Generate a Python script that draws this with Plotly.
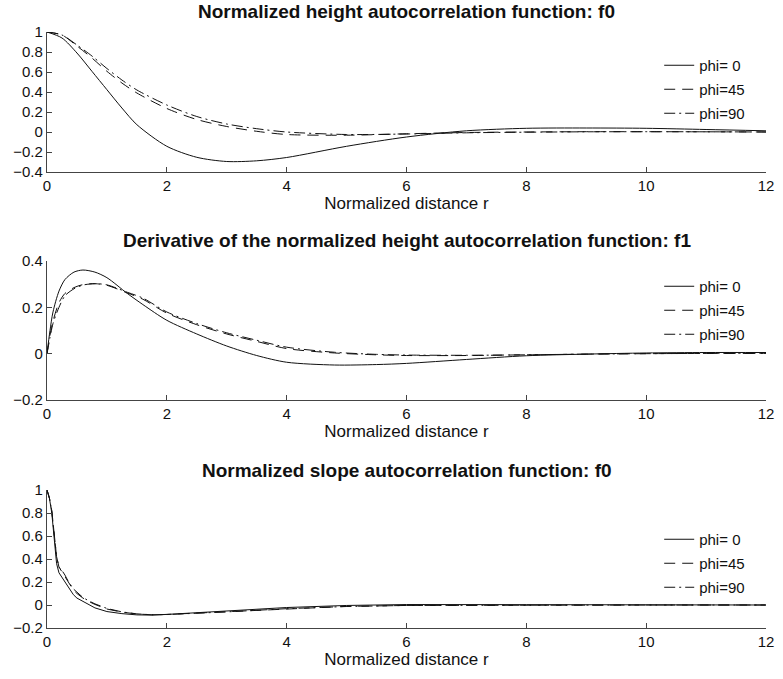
import plotly.graph_objects as go

# ---------------- data ----------------
series_names = ["phi= 0", "phi=45", "phi=90"]

# Plot 1: normalized height autocorrelation f0
r1 = [0, 0.25, 0.5, 0.75, 1, 1.25, 1.5, 2, 2.5, 3, 3.5, 4, 5, 6, 7, 8, 9, 10, 11, 12]
h0_phi0 = [1, 0.94, 0.79, 0.607, 0.423, 0.24, 0.073, -0.143, -0.253, -0.295, -0.288, -0.255,
           -0.143, -0.05, 0.012, 0.037, 0.04, 0.037, 0.025, 0.012]
h0_phi45 = [1, 0.97, 0.86, 0.74, 0.607, 0.49, 0.39, 0.235, 0.125, 0.055, 0.007, -0.025,
            -0.032, -0.018, -0.005, 0.0, 0.003, 0.003, 0.002, 0.0]
h0_phi90 = [1, 0.97, 0.87, 0.76, 0.635, 0.52, 0.42, 0.27, 0.155, 0.08, 0.033, 0.0,
            -0.025, -0.02, -0.008, -0.002, 0.002, 0.003, 0.002, 0.0]

# Plot 2: derivative of normalized height autocorrelation f1
r2 = [0, 0.05, 0.1, 0.2, 0.3, 0.45, 0.6, 0.8, 1.0, 1.34, 1.6, 2, 2.5, 3, 3.5, 4, 4.8, 5.5,
      6, 7, 8, 9, 10, 11, 12]
h1_phi0 = [0, 0.1, 0.18, 0.27, 0.32, 0.352, 0.361, 0.352, 0.328, 0.26, 0.212, 0.144, 0.085,
           0.033, -0.008, -0.037, -0.049, -0.047, -0.042, -0.025, -0.009, -0.002, 0.003, 0.005, 0.005]
h1_phi45 = [0, 0.08, 0.14, 0.22, 0.26, 0.285, 0.298, 0.302, 0.295, 0.262, 0.235, 0.175, 0.125,
            0.085, 0.053, 0.022, 0.003, -0.005, -0.008, -0.008, -0.005, -0.002, 0.0, 0.001, 0.001]
h1_phi90 = [0, 0.07, 0.13, 0.2, 0.25, 0.28, 0.296, 0.302, 0.297, 0.265, 0.24, 0.18, 0.13,
            0.09, 0.058, 0.028, 0.006, -0.003, -0.006, -0.007, -0.005, -0.002, 0.0, 0.001, 0.001]

# Plot 3: normalized slope autocorrelation f0
r3 = [0, 0.04, 0.08, 0.12, 0.16, 0.2, 0.25, 0.3, 0.35, 0.44, 0.5, 0.6, 0.7, 0.8, 1.0, 1.25,
      1.5, 1.75, 2, 2.5, 3, 4, 5, 6, 8, 10, 12]
s0_phi0 = [1, 0.93, 0.8, 0.58, 0.36, 0.28, 0.24, 0.2, 0.15, 0.09, 0.06, 0.03, 0.0, -0.025,
           -0.057, -0.075, -0.086, -0.088, -0.082, -0.068, -0.052, -0.022, -0.004, 0.004,
           0.003, 0.001, 0.0]
s0_phi45 = [1, 0.93, 0.82, 0.62, 0.42, 0.33, 0.29, 0.25, 0.2, 0.13, 0.1, 0.06, 0.03, 0.005,
            -0.035, -0.062, -0.078, -0.085, -0.082, -0.07, -0.058, -0.03, -0.012, -0.004,
            0.0, 0.0, 0.0]
s0_phi90 = [1, 0.93, 0.82, 0.62, 0.42, 0.33, 0.3, 0.26, 0.21, 0.14, 0.11, 0.065, 0.035, 0.01,
            -0.03, -0.06, -0.077, -0.085, -0.083, -0.072, -0.06, -0.032, -0.013, -0.004,
            0.0, 0.0, 0.0]

titles = ["Normalized height autocorrelation function: f0",
          "Derivative of the normalized height autocorrelation function: f1",
          "Normalized slope autocorrelation function: f0"]
xlabel = "Normalized distance r"
yranges = [[-0.4, 1], [-0.2, 0.4], [-0.2, 1]]

# ---------------- styling ----------------
FONT = "Liberation Sans, Arial, Helvetica, sans-serif"
dashes = ["solid", "11px,7px", "11px,4px,2px,4px"]
shapes = ["spline", "spline", "linear"]
W, H = 783, 679
ML, MR, MT, MB = 47, 9, 32, 51
PW, PH = W - ML - MR, H - MT - MB

def py(px):  # pixel row -> paper y
    return (H - MB - px) / PH

def pxx(px):
    return (px - ML) / PW

domains = [[py(172), py(32)], [py(400), py(261)], [py(628), py(490)]]

fig = go.Figure()
data = [(r1, [h0_phi0, h0_phi45, h0_phi90]),
        (r2, [h1_phi0, h1_phi45, h1_phi90]),
        (r3, [s0_phi0, s0_phi45, s0_phi90])]
legend_keys = ["legend", "legend2", "legend3"]
for i, (r, ys) in enumerate(data):
    ax = "" if i == 0 else str(i + 1)
    for j, y in enumerate(ys):
        fig.add_trace(go.Scatter(
            x=r, y=y, mode="lines", name=series_names[j],
            line=dict(color="#111111", width=1, dash=dashes[j], shape=shapes[i],
                      smoothing=0.8),
            xaxis="x" + ax, yaxis="y" + ax,
            legend=legend_keys[i], legendgroup=f"g{i}{j}",
        ))

axis_common = dict(showline=True, linecolor="#444444", linewidth=1.2,
                   ticks="inside", ticklen=5, tickcolor="#444444", tickwidth=1,
                   showgrid=False, zeroline=False,
                   tickfont=dict(family=FONT, size=15, color="#111111"))
layout = dict(width=W, height=H, margin=dict(l=ML, r=MR, t=MT, b=MB),
              paper_bgcolor="white", plot_bgcolor="white", showlegend=True,
              font=dict(family=FONT, color="#111111"))
leg_tops = [49, 270, 523]
for i in range(3):
    ax = "" if i == 0 else str(i + 1)
    layout["xaxis" + ax] = dict(axis_common, domain=[0, 1], range=[0, 12], dtick=2,
                                anchor="y" + ax,
                                title=dict(text=xlabel, standoff=3,
                                           font=dict(family=FONT, size=17, color="#111111")))
    layout["yaxis" + ax] = dict(axis_common, domain=domains[i], range=yranges[i], dtick=0.2,
                                anchor="x" + ax)
    layout[legend_keys[i]] = dict(x=pxx(666), y=py(leg_tops[i]), xanchor="left", yanchor="top",
                                  bgcolor="rgba(0,0,0,0)", borderwidth=0,
                                  traceorder="grouped", tracegroupgap=1.5,
                                  font=dict(family=FONT, size=15, color="#111111"))
fig.update_layout(**layout)

title_rows = [12, 241, 470]
for i, t in enumerate(titles):
    fig.add_annotation(text="<b>" + t + "</b>", xref="paper", yref="paper",
                       x=0.5, y=py(title_rows[i]), xanchor="center", yanchor="middle",
                       showarrow=False, font=dict(family=FONT, size=19, color="#111111"))

fig.write_html("out.html")
